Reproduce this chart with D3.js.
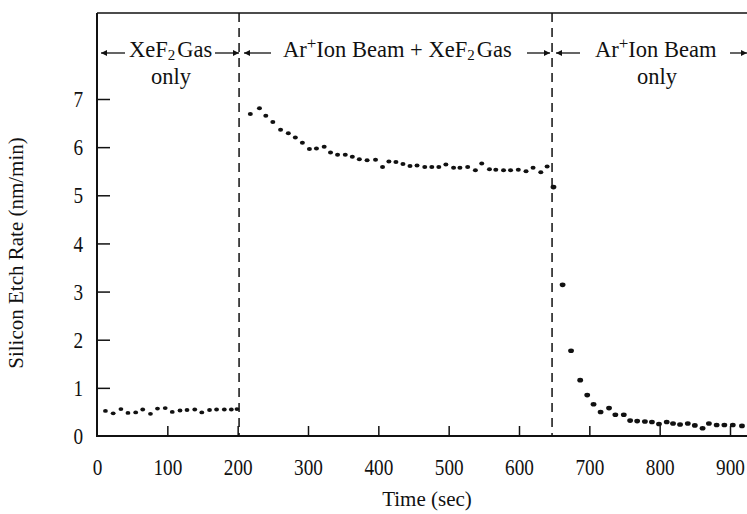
<!DOCTYPE html>
<html>
<head>
<meta charset="utf-8">
<script src="https://cdn.jsdelivr.net/npm/d3@7"></script>
<style>
  html, body { margin: 0; padding: 0; background: #fff; }
  svg { display: block; }
  text { font-family: "Liberation Serif", "Times New Roman", serif; fill: #111; }
</style>
</head>
<body>
<svg id="chart" width="747" height="514"></svg>
<script>
// ---- data ----
const gasOnlyTime = [12, 23, 34, 44, 55, 65, 76, 86, 97, 107, 118, 128, 139, 149, 160, 170, 181, 191, 199];
const gasOnlyRate = [0.52, 0.47, 0.56, 0.48, 0.49, 0.55, 0.46, 0.57, 0.58, 0.50, 0.53, 0.54, 0.55, 0.49, 0.54, 0.55, 0.55, 0.55, 0.56];

const beamGasTime = [218, 231, 240, 250, 261, 272, 282, 292, 302, 312, 323, 332, 342, 353, 363, 373, 384, 396, 406, 415, 425, 435, 445, 455, 466, 476, 486, 496, 507, 516, 527, 538, 547, 558, 567, 578, 588, 599, 610, 620, 631, 640];
const beamGasRate = [6.69, 6.81, 6.65, 6.52, 6.36, 6.29, 6.20, 6.09, 5.96, 5.97, 6.01, 5.89, 5.84, 5.84, 5.80, 5.75, 5.73, 5.74, 5.59, 5.70, 5.69, 5.65, 5.61, 5.62, 5.59, 5.59, 5.59, 5.64, 5.57, 5.57, 5.59, 5.52, 5.66, 5.54, 5.53, 5.52, 5.52, 5.53, 5.50, 5.57, 5.48, 5.60];

const beamOnlyTime = [649, 662, 674, 687, 697, 706, 716, 728, 737, 749, 758, 768, 779, 789, 799, 810, 819, 829, 840, 850, 861, 870, 881, 892, 904, 917];
const beamOnlyRate = [5.17, 3.14, 1.77, 1.16, 0.85, 0.66, 0.50, 0.58, 0.44, 0.44, 0.32, 0.31, 0.30, 0.29, 0.25, 0.29, 0.26, 0.24, 0.26, 0.22, 0.16, 0.26, 0.23, 0.23, 0.23, 0.21];

const phaseBoundaries = [202, 647];
const xTicks = [0, 100, 200, 300, 400, 500, 600, 700, 800, 900];
const yTicks = [0, 1, 2, 3, 4, 5, 6, 7];

// ---- drawing ----
const svg = d3.select("#chart");
const x = d3.scaleLinear().domain([0, 900]).range([97, 730]);
const y = d3.scaleLinear().domain([0, 7]).range([436, 99]);
const xMax = x.invert(747);
const yTop = y.invert(13);

// frame: left, top, bottom
svg.append("line").attr("x1", x(0)).attr("x2", x(0)).attr("y1", y(yTop)).attr("y2", y(0))
  .attr("stroke", "#111").attr("stroke-width", 2);
svg.append("line").attr("x1", x(0)).attr("x2", x(xMax)).attr("y1", y(yTop)).attr("y2", y(yTop))
  .attr("stroke", "#111").attr("stroke-width", 1.5);
svg.append("line").attr("x1", x(0) - 1).attr("x2", x(xMax)).attr("y1", y(0)).attr("y2", y(0))
  .attr("stroke", "#111").attr("stroke-width", 2);

// x axis
const gx = svg.append("g").attr("transform", `translate(0,${y(0)})`)
  .call(d3.axisBottom(x).tickValues(xTicks).tickSize(-10).tickPadding(22).tickFormat(d3.format("d")));
gx.select(".domain").remove();
gx.selectAll(".tick line").attr("stroke", "#111").attr("stroke-width", 1.5)
  .filter(d => d === 0).remove();
gx.selectAll(".tick text").attr("font-size", 24).attr("fill", "#111")
  .attr("font-family", "Liberation Serif, serif")
  .attr("transform", "scale(0.8,1)");

// y axis
const gy = svg.append("g").attr("transform", `translate(${x(0)},0)`)
  .call(d3.axisLeft(y).tickValues(yTicks).tickSize(-13).tickPadding(14).tickFormat(d3.format("d")));
gy.select(".domain").remove();
gy.selectAll(".tick line").attr("stroke", "#111").attr("stroke-width", 1.5)
  .filter(d => d === 0).remove();
gy.selectAll(".tick text").attr("font-size", 24).attr("fill", "#111")
  .attr("font-family", "Liberation Serif, serif")
  .attr("x", -14 / 0.8)
  .attr("transform", "scale(0.8,1)");

// axis titles
svg.append("text").attr("x", 427).attr("y", 506)
  .attr("text-anchor", "middle").attr("font-size", 21).text("Time (sec)");
svg.append("text").attr("transform", `translate(23,253) rotate(-90)`)
  .attr("text-anchor", "middle").attr("font-size", 21).text("Silicon Etch Rate (nm/min)");

// dashed phase boundaries
svg.selectAll(".boundary").data(phaseBoundaries).enter().append("line")
  .attr("x1", d => x(d)).attr("x2", d => x(d)).attr("y1", y(yTop)).attr("y2", y(0))
  .attr("stroke", "#111").attr("stroke-width", 1.5).attr("stroke-dasharray", "9,6");

// data points
const allPts = [];
gasOnlyTime.forEach((t, i) => allPts.push([t, gasOnlyRate[i], 2.4, 1.9]));
beamGasTime.forEach((t, i) => allPts.push([t, beamGasRate[i], 2.5, 2.0]));
beamOnlyTime.forEach((t, i) => allPts.push([t, beamOnlyRate[i], 2.9, 2.3]));
svg.selectAll(".pt").data(allPts).enter().append("ellipse")
  .attr("cx", d => x(d[0])).attr("cy", d => y(d[1]))
  .attr("rx", d => d[2]).attr("ry", d => d[3]).attr("fill", "#111");

// arrows
const defs = svg.append("defs");
defs.append("marker").attr("id", "ah").attr("viewBox", "0 0 10 10")
  .attr("refX", 10).attr("refY", 5).attr("markerWidth", 9).attr("markerHeight", 6)
  .attr("markerUnits", "userSpaceOnUse").attr("orient", "auto")
  .append("path").attr("d", "M0,0 L10,5 L0,10 Z").attr("fill", "#111");
const arrowY = 53;
const arrows = [[125, 101], [215, 239], [271, 244], [527, 550], [580, 556], [730, 747]];
svg.selectAll(".arr").data(arrows).enter().append("line")
  .attr("x1", d => d[0]).attr("x2", d => d[1]).attr("y1", arrowY).attr("y2", arrowY)
  .attr("stroke", "#111").attr("stroke-width", 1.3).attr("marker-end", "url(#ah)");

// annotation labels
const FS = 22.5;
function xef2(sel) {
  sel.append("tspan").text("XeF");
  sel.append("tspan").text("2").attr("font-size", 15).attr("dy", 3);
  sel.append("tspan").text("Gas").attr("dy", -3).attr("dx", 2);
}
const t1 = svg.append("text").attr("x", 129).attr("y", 57).attr("font-size", FS);
xef2(t1);
svg.append("text").attr("x", 171).attr("y", 84).attr("font-size", FS).attr("text-anchor", "middle").text("only");

const t2 = svg.append("text").attr("x", 283).attr("y", 57).attr("font-size", FS);
t2.append("tspan").text("Ar");
t2.append("tspan").text("+").attr("font-size", 17).attr("dy", -8);
t2.append("tspan").text("Ion Beam + ").attr("dy", 8);
xef2(t2);

const t3 = svg.append("text").attr("x", 595).attr("y", 57).attr("font-size", FS);
t3.append("tspan").text("Ar");
t3.append("tspan").text("+").attr("font-size", 17).attr("dy", -8);
t3.append("tspan").text("Ion Beam").attr("dy", 8);
svg.append("text").attr("x", 657).attr("y", 84).attr("font-size", FS).attr("text-anchor", "middle").text("only");
</script>
</body>
</html>
